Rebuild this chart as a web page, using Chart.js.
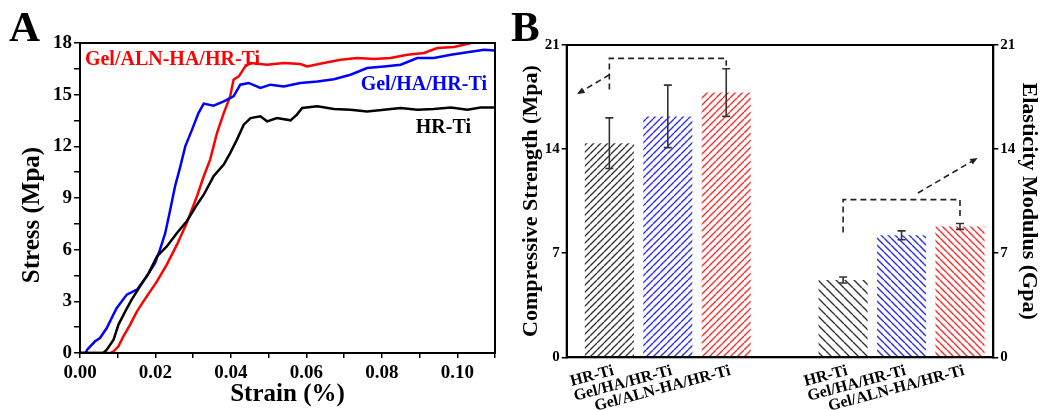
<!DOCTYPE html>
<html>
<head>
<meta charset="utf-8">
<script src="https://cdn.jsdelivr.net/npm/chart.js@4.4.1/dist/chart.umd.min.js"></script>
<style>
  html, body { margin: 0; padding: 0; background: #fff; }
  #wrap { position: relative; width: 1040px; height: 410px; overflow: hidden; }
  .panel { position: absolute; top: 0; width: 520px; height: 410px; }
  .letter { position: absolute; font-family: "Liberation Serif", serif; font-weight: bold; font-size: 43px; line-height: 1; color: #000; }
</style>
</head>
<body>
<div id="wrap">
  <div class="panel" style="left:0"><canvas id="chartA" width="520" height="410"></canvas></div>
  <div class="panel" style="left:520px"><canvas id="chartB" width="520" height="410"></canvas></div>
  <div class="letter" style="left:9px;top:5px">A</div>
  <div class="letter" style="left:511px;top:5px">B</div>
</div>
<script>
// ---- Panel A data: stress-strain curves ----
const hrTiStrain = [0, 0.0062, 0.0071, 0.0089, 0.0102, 0.012, 0.0137, 0.0159, 0.0182, 0.0204, 0.023, 0.0257, 0.0283, 0.031, 0.0328, 0.0354, 0.0381, 0.0398, 0.0416, 0.0434, 0.0452, 0.0478, 0.0496, 0.0522, 0.0558, 0.0575, 0.0589, 0.0629, 0.0673, 0.0717, 0.0761, 0.0806, 0.085, 0.0894, 0.0938, 0.0983, 0.1027, 0.1062, 0.1098];
const hrTiStress = [0, 0, 0.19, 0.77, 1.65, 2.42, 3.1, 3.87, 4.64, 5.61, 6.19, 6.97, 7.65, 8.61, 9.19, 10.26, 10.94, 11.61, 12.39, 13.26, 13.64, 13.74, 13.45, 13.64, 13.51, 13.84, 14.23, 14.32, 14.17, 14.13, 14.03, 14.13, 14.23, 14.13, 14.17, 14.26, 14.13, 14.26, 14.26];

const haStrain = [0, 0.0015, 0.0019, 0.004, 0.0053, 0.0071, 0.0084, 0.0097, 0.0124, 0.0151, 0.0177, 0.0199, 0.0212, 0.0226, 0.0239, 0.0252, 0.0266, 0.0279, 0.0297, 0.0314, 0.0328, 0.0354, 0.0381, 0.0407, 0.0425, 0.0447, 0.0478, 0.0505, 0.054, 0.0584, 0.0629, 0.0673, 0.0717, 0.0761, 0.0806, 0.085, 0.0894, 0.0938, 0.0983, 0.1027, 0.1071, 0.1098];
const haStress = [0, 0, 0.19, 0.68, 0.87, 1.45, 2.03, 2.6, 3.39, 3.68, 4.45, 5.23, 6.0, 6.97, 8.3, 9.68, 10.84, 12.0, 12.97, 13.93, 14.48, 14.36, 14.61, 14.9, 15.58, 15.68, 15.39, 15.58, 15.48, 15.68, 15.77, 15.9, 16.16, 16.55, 16.64, 16.74, 17.13, 17.13, 17.32, 17.46, 17.61, 17.57];

const alnStrain = [0, 0.008, 0.0089, 0.0102, 0.0115, 0.0133, 0.0151, 0.0177, 0.0204, 0.023, 0.0257, 0.0283, 0.031, 0.0328, 0.0345, 0.0363, 0.0381, 0.0398, 0.0407, 0.0421, 0.0438, 0.0452, 0.0496, 0.054, 0.0584, 0.0602, 0.0646, 0.0691, 0.0735, 0.0779, 0.0823, 0.0868, 0.0912, 0.0947, 0.0992, 0.1036];
const alnStress = [0, 0, 0.1, 0.39, 0.97, 1.65, 2.42, 3.29, 4.16, 5.13, 6.29, 7.55, 9.1, 10.26, 11.23, 12.77, 13.93, 14.9, 15.87, 16.06, 16.64, 16.84, 16.74, 16.84, 16.78, 16.64, 16.84, 17.03, 17.13, 17.07, 17.13, 17.32, 17.42, 17.71, 17.77, 18.0];

// ---- Panel B data: mean +/- sd ----
const groups = ['HR-Ti', 'Gel/HA/HR-Ti', 'Gel/ALN-HA/HR-Ti'];
const strengthMean = [14.4, 16.2, 17.8];
const strengthErr = [1.7, 2.1, 1.6];
const modulusMean = [5.2, 8.2, 8.8];
const modulusErr = [0.2, 0.3, 0.2];

const SERIF = '"Liberation Serif", "Times New Roman", serif';
Chart.defaults.font.family = SERIF;
Chart.defaults.font.weight = 'bold';
Chart.defaults.color = '#000';

function pts(xs, ys) {
  return xs.map((x, i) => ({ x: x, y: ys[i] }));
}

// box around the plot area
const framePlugin = {
  id: 'frame',
  afterDraw(chart) {
    const { ctx, chartArea: a } = chart;
    ctx.save();
    ctx.strokeStyle = '#000';
    ctx.lineWidth = 2;
    ctx.strokeRect(a.left, a.top, a.right - a.left, a.bottom - a.top);
    ctx.restore();
  }
};

// curve names + y title for panel A
const curveNames = [
  { text: 'Gel/ALN-HA/HR-Ti', color: '#ff0000', x: 0.0013, y: 16.72 },
  { text: 'Gel/HA/HR-Ti', color: '#0000ff', x: 0.0744, y: 15.29 },
  { text: 'HR-Ti', color: '#000', x: 0.089, y: 12.79 }
];
const labelsA = {
  id: 'labelsA',
  afterDraw(chart) {
    const { ctx, scales: { x, y } } = chart;
    ctx.save();
    ctx.font = 'bold 20px ' + SERIF;
    ctx.textBaseline = 'alphabetic';
    curveNames.forEach(c => {
      ctx.fillStyle = c.color;
      ctx.fillText(c.text, x.getPixelForValue(c.x), y.getPixelForValue(c.y));
    });
    ctx.fillStyle = '#000';
    ctx.font = 'bold 25px ' + SERIF;
    ctx.translate(33, 215);
    ctx.rotate(-Math.PI / 2);
    ctx.textAlign = 'center';
    ctx.textBaseline = 'middle';
    ctx.fillText('Stress (Mpa)', 0, 0);
    ctx.restore();
  }
};

new Chart(document.getElementById('chartA'), {
  type: 'line',
  data: {
    datasets: [
      { data: pts(hrTiStrain, hrTiStress), borderColor: '#000000' },
      { data: pts(haStrain, haStress), borderColor: '#0000ff' },
      { data: pts(alnStrain, alnStress), borderColor: '#ff0000' }
    ]
  },
  options: {
    responsive: false,
    animation: false,
    layout: { padding: { top: 43, right: 25, left: 0, bottom: 0 } },
    plugins: { legend: { display: false }, tooltip: { enabled: false } },
    elements: { point: { radius: 0 }, line: { borderWidth: 2.5, tension: 0 } },
    scales: {
      x: {
        type: 'linear', min: 0, max: 0.11,
        ticks: {
          stepSize: 0.01, autoSkip: false, maxRotation: 0, padding: 4,
          font: { size: 19, weight: 'bold' },
          callback: v => (Math.round(v * 100) % 2 === 0 ? v.toFixed(2) : '')
        },
        grid: { drawOnChartArea: false, color: '#000', tickLength: 5, lineWidth: 1.5 },
        border: { color: '#000', width: 2 },
        title: { display: true, text: 'Strain (%)', font: { size: 25, weight: 'bold', lineHeight: 1.2 }, padding: 0 },
        afterFit: s => { s.height = 57; }
      },
      y: {
        min: 0, max: 18,
        ticks: {
          stepSize: 1.5, autoSkip: false, padding: 2,
          font: { size: 19, weight: 'bold' },
          callback: v => (v % 3 === 0 ? v : '')
        },
        grid: { drawOnChartArea: false, color: '#000', tickLength: 6, lineWidth: 1.5 },
        border: { color: '#000', width: 2 },
        afterFit: s => { s.width = 80; }
      }
    }
  },
  plugins: [framePlugin, labelsA]
});

// ---- Panel B ----
function hatch(color, size, up) {
  const c = document.createElement('canvas');
  c.width = size; c.height = size;
  const g = c.getContext('2d');
  g.strokeStyle = color;
  g.lineWidth = 1.4;
  g.beginPath();
  for (let k = -1; k <= 1; k++) {
    if (up) { g.moveTo(k * size, size); g.lineTo(k * size + size, 0); }
    else { g.moveTo(k * size, 0); g.lineTo(k * size + size, size); }
  }
  g.stroke();
  return g.createPattern(c, 'repeat');
}
const barColors = ['#333333', '#2b2bff', '#ff2b2b'];
const leftFills = barColors.map(c => hatch(c, 7, true));
const rightFills = barColors.map((c, i) => hatch(c, i === 0 ? 9 : 7, false));

const nulls = groups.map(() => null);
const catLabels = [...groups, '', ...groups];

const errorBars = {
  id: 'errorBars',
  afterDatasetsDraw(chart) {
    const ctx = chart.ctx;
    ctx.save();
    ctx.strokeStyle = '#333';
    ctx.lineWidth = 1.6;
    chart.data.datasets.forEach((ds, i) => {
      const ys = chart.scales[ds.yAxisID];
      chart.getDatasetMeta(i).data.forEach((bar, j) => {
        const v = ds.data[j];
        if (v == null) return;
        const e = ds.errors[j];
        const t = ys.getPixelForValue(v + e), b = ys.getPixelForValue(v - e);
        ctx.beginPath();
        ctx.moveTo(bar.x, t); ctx.lineTo(bar.x, b);
        ctx.moveTo(bar.x - 4, t); ctx.lineTo(bar.x + 4, t);
        ctx.moveTo(bar.x - 4, b); ctx.lineTo(bar.x + 4, b);
        ctx.stroke();
      });
    });
    ctx.restore();
  }
};

function dashedArrow(ctx, x0, y0, x1, y1) {
  ctx.beginPath();
  ctx.moveTo(x0, y0); ctx.lineTo(x1, y1);
  ctx.stroke();
  const ang = Math.atan2(y1 - y0, x1 - x0);
  ctx.save();
  ctx.setLineDash([]);
  ctx.beginPath();
  ctx.moveTo(x1, y1);
  ctx.lineTo(x1 - 8 * Math.cos(ang - 0.4), y1 - 8 * Math.sin(ang - 0.4));
  ctx.lineTo(x1 - 8 * Math.cos(ang + 0.4), y1 - 8 * Math.sin(ang + 0.4));
  ctx.closePath();
  ctx.fill();
  ctx.restore();
}

const brackets = {
  id: 'brackets',
  afterDatasetsDraw(chart) {
    const { ctx, scales: { x, y, y2 } } = chart;
    ctx.save();
    ctx.strokeStyle = '#222';
    ctx.fillStyle = '#222';
    ctx.lineWidth = 1.6;
    ctx.setLineDash([6, 4]);
    // strength group -> left axis
    ctx.beginPath();
    ctx.moveTo(x.getPixelForValue(0), y.getPixelForValue(18.0));
    ctx.lineTo(x.getPixelForValue(0), y.getPixelForValue(20.1));
    ctx.lineTo(x.getPixelForValue(2), y.getPixelForValue(20.1));
    ctx.lineTo(x.getPixelForValue(2), y.getPixelForValue(19.6));
    ctx.stroke();
    dashedArrow(ctx, x.getPixelForValue(0), y.getPixelForValue(19.0), x.getPixelForValue(-0.55), y.getPixelForValue(17.7));
    // modulus group -> right axis
    ctx.beginPath();
    ctx.moveTo(x.getPixelForValue(4), y2.getPixelForValue(8.4));
    ctx.lineTo(x.getPixelForValue(4), y2.getPixelForValue(10.6));
    ctx.lineTo(x.getPixelForValue(6), y2.getPixelForValue(10.6));
    ctx.lineTo(x.getPixelForValue(6), y2.getPixelForValue(9.5));
    ctx.stroke();
    dashedArrow(ctx, x.getPixelForValue(5.28), y2.getPixelForValue(11.05), x.getPixelForValue(6.3), y2.getPixelForValue(13.4));
    ctx.restore();
  }
};

const yAxisB = (pos, title, w) => ({
  position: pos, min: 0, max: 21,
  ticks: { stepSize: 7, padding: 2, font: { size: 15, weight: 'bold' } },
  grid: { drawOnChartArea: false, color: '#000', tickLength: 5, lineWidth: 1.5 },
  border: { color: '#000', width: 2 },
  title: { display: true, text: title, font: { size: 22, weight: 'bold', lineHeight: 1 }, padding: 0 },
  afterFit: s => { s.width = w; }
});

new Chart(document.getElementById('chartB'), {
  type: 'bar',
  data: {
    labels: catLabels,
    datasets: [
      {
        data: [...strengthMean, null, ...nulls],
        errors: [...strengthErr, null, ...nulls],
        backgroundColor: [...leftFills, null, ...nulls],
        yAxisID: 'y'
      },
      {
        data: [...nulls, null, ...modulusMean],
        errors: [...nulls, null, ...modulusErr],
        backgroundColor: [...nulls, null, ...rightFills],
        yAxisID: 'y2'
      }
    ]
  },
  options: {
    responsive: false,
    animation: false,
    layout: { padding: { top: 45, right: 0, left: 0, bottom: 0 } },
    plugins: { legend: { display: false }, tooltip: { enabled: false } },
    datasets: { bar: { grouped: false, categoryPercentage: 1, barPercentage: 0.84, borderWidth: 0 } },
    scales: {
      x: {
        ticks: { autoSkip: false, minRotation: 15, maxRotation: 15, padding: -4, labelOffset: 4, font: { size: 16, weight: 'bold' } },
        grid: { display: false },
        border: { color: '#000', width: 2 },
        afterFit: s => { s.height = 52.7; },
        // the two groups sit closer than a full empty slot; shift the category grid a bit
        afterBuildTicks: s => { s._startValue = -0.73; s._valueRange = 7.3; }
      },
      y: yAxisB('left', 'Compressive Strength (Mpa)', 46.7),
      y2: yAxisB('right', 'Elasticity Modulus (Gpa)', 46.7)
    }
  },
  plugins: [framePlugin, errorBars, brackets]
});
</script>
</body>
</html>
